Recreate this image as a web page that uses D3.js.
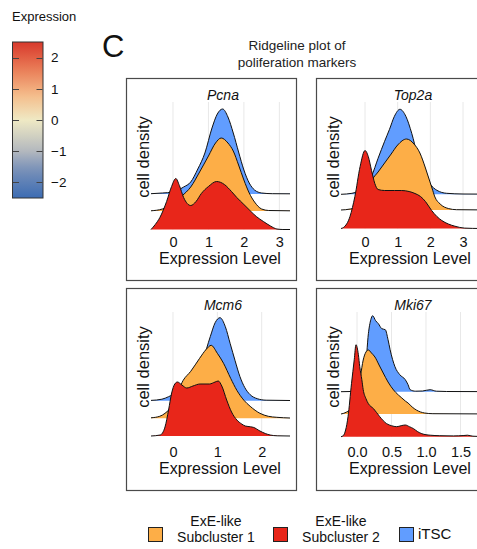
<!DOCTYPE html>
<html><head><meta charset="utf-8">
<script src="https://cdn.jsdelivr.net/npm/d3@7"></script>
<style>body{margin:0;background:#fff}svg{display:block;font-family:"Liberation Sans",Arial,sans-serif}</style>
</head><body><svg id="c" width="477" height="549"></svg>
<script>
// ---------- data ----------
const groups = ["ExE-like Subcluster 2", "ExE-like Subcluster 1", "iTSC"]; // bottom -> top ridge
const groupColors = ["#E8261A", "#FDAE47", "#619DFF"];
const legendOrder = [1, 0, 2];
const genes = ["Pcna", "Top2a", "Mcm6", "Mki67"];
const xDomains = [[-0.62, 3.30], [-0.735, 3.52], [-0.496, 2.638], [-0.232, 1.783]];
const xTickValues = [[0, 1, 2, 3], [0, 1, 2, 3], [0, 1, 2], [0, 0.5, 1.0, 1.5]];
const xTickFormats = ["d", "d", "d", ".1f"];
const colorbarTicks = [-2, -1, 0, 1, 2];

// relative density (x = expression level, h = ridge height)
const pcnaSub2 = [[-0.62,0],[-0.5,5],[-0.37,12],[-0.18,28],[-0.04,43],[0.08,51],[0.18,44],[0.3,32],[0.5,24],[0.65,28],[0.8,36],[1.0,43],[1.23,48],[1.45,45],[1.65,38],[1.8,32],[2.0,25],[2.17,19],[2.35,13],[2.55,8],[2.75,3.5],[2.93,0.5],[3.1,0],[3.3,0]];
const pcnaSub1 = [[-0.62,0.2],[-0.3,2],[0,8],[0.25,15],[0.5,24],[0.75,39],[1.0,55],[1.2,68],[1.36,73],[1.55,68],[1.7,60],[1.85,46],[2.0,31],[2.15,18],[2.3,9],[2.5,2],[2.7,0.5],[3.3,0.2]];
const pcnaITSC = [[-0.62,0.3],[-0.3,1],[0,2],[0.3,7],[0.5,12],[0.7,25],[0.9,41],[1.1,66],[1.25,80],[1.4,85],[1.55,77],[1.7,61],[1.85,42],[2.0,24],[2.15,11],[2.3,4],[2.5,1],[2.8,0.3],[3.3,0.2]];

const top2aSub2 = [[-0.735,0],[-0.66,1],[-0.46,12],[-0.31,32],[-0.15,62],[0.0,78],[0.1,72],[0.2,58],[0.3,45],[0.4,39],[0.6,38],[0.9,38],[1.12,38],[1.35,37],[1.53,35],[1.7,32],[1.85,27],[2.04,18],[2.2,12],[2.35,8],[2.55,4.5],[2.75,2.3],[3.05,0.4],[3.52,0]];
const top2aSub1 = [[-0.735,0],[-0.45,1],[-0.25,3],[0,10],[0.2,29],[0.4,38],[0.6,47],[0.8,56],[1.0,65],[1.27,71],[1.5,66],[1.68,57],[1.85,42],[1.94,33],[2.05,22],[2.14,13],[2.3,6],[2.55,1.5],[2.8,0.3],[3.52,0.1]];
const top2aITSC = [[-0.735,0],[-0.4,1],[-0.2,3],[0,7],[0.2,18],[0.4,36],[0.6,53],[0.75,65],[0.9,78],[1.07,85],[1.25,78],[1.43,61],[1.6,40],[1.8,22],[2.0,10],[2.2,4],[2.5,1],[3.0,0.3],[3.52,0.2]];

const mcm6Sub2 = [[-0.496,0],[-0.29,1],[-0.18,9],[-0.1,26],[-0.03,43],[0.04,52],[0.1,54],[0.2,51],[0.31,48],[0.45,50],[0.61,52],[0.82,52],[0.95,54],[1.02,55],[1.1,50],[1.21,36],[1.32,24],[1.44,16],[1.55,12],[1.63,10],[1.75,9.2],[1.81,8.7],[1.96,5],[2.08,2.5],[2.19,1],[2.35,0.2],[2.638,0]];
const mcm6Sub1 = [[-0.496,0.5],[-0.3,2],[-0.18,5],[0,14],[0.23,38],[0.4,47],[0.6,60],[0.75,69],[0.86,73],[1.0,65],[1.14,55],[1.3,40],[1.44,28],[1.6,18],[1.74,12],[1.96,5],[2.15,2],[2.34,1],[2.638,0.3]];
const mcm6ITSC = [[-0.496,0.3],[-0.25,1.5],[-0.1,4],[0.1,9],[0.3,17],[0.5,28],[0.68,42],[0.84,64],[0.95,78],[1.06,83],[1.18,74],[1.29,57],[1.4,40],[1.51,24],[1.62,13],[1.74,6],[1.9,2],[2.1,0.5],[2.638,0.2]];

const mki67Sub2 = [[-0.232,0],[-0.2,1],[-0.13,20],[-0.08,53],[-0.04,77],[-0.015,92],[0.02,82],[0.04,70],[0.07,57],[0.09,47],[0.13,38],[0.165,33],[0.24,28],[0.33,20],[0.43,13],[0.5,11],[0.575,10],[0.64,11],[0.7,11.7],[0.76,10],[0.82,8],[0.88,5],[0.94,3],[1.06,1.5],[1.2,1],[1.4,0.8],[1.55,1.2],[1.6,1.5],[1.68,0.5],[1.783,0.2]];
const mki67Sub1 = [[-0.232,0],[-0.15,2],[-0.08,6],[0.0,20],[0.05,38],[0.09,54],[0.13,62],[0.165,64],[0.21,61],[0.26,57],[0.32,49],[0.38,41],[0.45,32],[0.53,24],[0.6,19],[0.65,16],[0.7,13],[0.74,11],[0.8,7],[0.86,4],[0.98,1],[1.1,0.3],[1.783,0.1]];
const mki67ITSC = [[-0.232,0],[0.0,0.5],[0.08,4],[0.12,20],[0.165,58],[0.2,72],[0.227,76],[0.27,71],[0.31,68],[0.36,63],[0.41,62],[0.45,52],[0.48,42],[0.55,25],[0.62,17],[0.7,12],[0.74,7],[0.77,2],[0.85,0.5],[0.95,0.7],[1.06,2],[1.15,0.5],[1.3,0.2],[1.783,0.1]];

const densities = [
  [pcnaSub2, pcnaSub1, pcnaITSC],
  [top2aSub2, top2aSub1, top2aITSC],
  [mcm6Sub2, mcm6Sub1, mcm6ITSC],
  [mki67Sub2, mki67Sub1, mki67ITSC]
];

// ---------- layout ----------
const panelPos = [[126, 78], [316, 78], [126, 288], [316, 288]];
const panelW = 170, panelH = 202;
const ridgeBases = [[151.5, 133, 116], [150.5, 132, 116.3], [148, 130.3, 112.7], [148.7, 126, 103.7]];
const FONT = '"Liberation Sans",Arial,sans-serif';

const svg = d3.select("#c");
svg.append("rect").attr("width", 477).attr("height", 549).attr("fill", "#fff");

// ---------- colour bar ----------
const cbScale = d3.scaleLinear().domain([-2.5, 2.5]).range([198, 42]);
const cbColor = d3.scaleLinear()
  .domain([-2.5, -1.6, -1, 0, 0.8, 1.6, 2.5])
  .range(["#3C6CB3", "#7890B8", "#B3B8BE", "#EFE9C4", "#F4BC8A", "#EA7E58", "#D8392C"]);
const defs = svg.append("defs");
const grad = defs.append("linearGradient").attr("id", "cbg").attr("x1", 0).attr("y1", 1).attr("x2", 0).attr("y2", 0);
d3.range(0, 1.0001, 0.05).forEach(t => {
  grad.append("stop").attr("offset", t).attr("stop-color", cbColor(-2.5 + 5 * t));
});
svg.append("text").attr("x", 12).attr("y", 21).attr("font-size", 13).attr("fill", "#111").text("Expression");
svg.append("rect").attr("x", 12.5).attr("y", cbScale(2.5)).attr("width", 30.5)
  .attr("height", cbScale(-2.5) - cbScale(2.5)).attr("fill", "url(#cbg)").attr("stroke", "#333").attr("stroke-width", 1);
colorbarTicks.forEach(v => {
  const y = Math.round(cbScale(v)) + 0.5;
  svg.append("line").attr("x1", 13).attr("x2", 19).attr("y1", y).attr("y2", y).attr("stroke", "#444");
  svg.append("line").attr("x1", 36.5).attr("x2", 42.5).attr("y1", y).attr("y2", y).attr("stroke", "#444");
  svg.append("text").attr("x", 51).attr("y", cbScale(v)).attr("dy", "0.36em").attr("font-size", 13.5)
    .attr("fill", "#111").text(v < 0 ? "\u2212" + Math.abs(v) : String(v));
});

// ---------- heading ----------
svg.append("text").attr("x", 102).attr("y", 57).attr("font-size", 31).attr("fill", "#111").text("C");
svg.append("text").attr("x", 297).attr("y", 50).attr("text-anchor", "middle").attr("font-size", 13.5).attr("fill", "#222").text("Ridgeline plot of");
svg.append("text").attr("x", 297).attr("y", 67).attr("text-anchor", "middle").attr("font-size", 13.5).attr("fill", "#222").text("poliferation markers");

// ---------- panels ----------
genes.forEach((gene, i) => {
  const [L, T] = panelPos[i];
  const g = svg.append("g");
  g.append("rect").attr("x", L + 0.5).attr("y", T + 0.5).attr("width", panelW).attr("height", panelH)
    .attr("fill", "#fff").attr("stroke", "#4a4a4a").attr("stroke-width", 1.2);
  const x = d3.scaleLinear().domain(xDomains[i]).range([L + 25, L + 164]);
  const bases = ridgeBases[i].map(b => T + b);
  // grid
  xTickValues[i].forEach(t => {
    g.append("line").attr("x1", x(t)).attr("x2", x(t)).attr("y1", T + 24).attr("y2", bases[0])
      .attr("stroke", "#E8E8E8").attr("stroke-width", 1);
  });
  // ridges, top first so lower ridges overlap
  for (let k = 2; k >= 0; k--) {
    const h = d3.scaleLinear().domain([0, 100]).range([bases[k], bases[k] - 100]);
    const area = d3.area().x(d => x(d[0])).y0(bases[k]).y1(d => h(d[1])).curve(d3.curveMonotoneX);
    const line = d3.line().x(d => x(d[0])).y(d => h(d[1])).curve(d3.curveMonotoneX);
    g.append("path").datum(densities[i][k]).attr("d", area).attr("fill", groupColors[k]);
    g.append("path").datum(densities[i][k]).attr("d", line).attr("fill", "none")
      .attr("stroke", "#111").attr("stroke-width", 1);
  }
  // x axis labels
  const ax = d3.axisBottom(x).tickValues(xTickValues[i]).tickSize(0).tickFormat(d3.format(xTickFormats[i]));
  const axg = g.append("g").attr("transform", `translate(0,${T + 164})`).call(ax);
  axg.select(".domain").remove();
  axg.selectAll("text").attr("y", 0).attr("dy", "0.36em").attr("font-size", 14.5)
    .attr("font-family", FONT).attr("fill", "#111");
  g.append("text").attr("x", L + 94).attr("y", T + 180).attr("dy", "0.36em").attr("text-anchor", "middle")
    .attr("font-size", 16).attr("fill", "#111").text("Expression Level");
  g.append("text").attr("transform", `translate(${L + 23},${T + 79}) rotate(-90)`)
    .attr("text-anchor", "middle").attr("font-size", 16.5).attr("fill", "#111").text("cell density");
  g.append("text").attr("x", L + 97).attr("y", T + 17).attr("dy", "0.36em").attr("text-anchor", "middle")
    .attr("font-size", 14).attr("font-style", "italic").attr("fill", "#111").text(gene);
});

// ---------- legend ----------
const legendX = [148, 273, 399];
legendOrder.forEach((k, j) => {
  const lx = legendX[j];
  svg.append("rect").attr("x", lx + 0.5).attr("y", 527.5).attr("width", 14).attr("height", 14)
    .attr("fill", groupColors[k]).attr("stroke", "#222").attr("stroke-width", 1);
  const name = groups[k];
  if (name.startsWith("ExE-like")) {
    const cx = lx + 68;
    svg.append("text").attr("x", cx).attr("y", 525.5).attr("text-anchor", "middle")
      .attr("font-size", 14).attr("fill", "#111").text("ExE-like");
    svg.append("text").attr("x", cx).attr("y", 541.5).attr("text-anchor", "middle")
      .attr("font-size", 14).attr("fill", "#111").text(name.replace("ExE-like ", ""));
  } else {
    svg.append("text").attr("x", lx + 19).attr("y", 534).attr("dy", "0.36em")
      .attr("font-size", 15).attr("fill", "#111").text(name);
  }
});
</script></body></html>
